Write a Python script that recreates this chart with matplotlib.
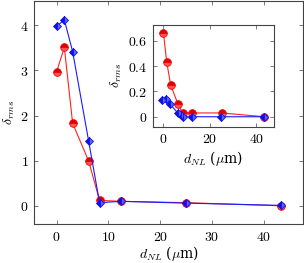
import matplotlib
matplotlib.use("Agg")
import matplotlib.pyplot as plt

plt.rcParams['mathtext.fontset'] = 'cm'
plt.rcParams['font.family'] = ['DejaVu Serif']

# main data
x_main = [0.0, 1.5, 3.1, 6.2, 8.3, 12.5, 25.0, 43.4]
red_main = [2.97, 3.51, 1.83, 0.99, 0.12, 0.10, 0.07, 0.0]
blue_main = [3.98, 4.12, 3.42, 1.43, 0.07, 0.10, 0.06, 0.01]

# inset data
x_in_red = [0.3, 1.7, 3.4, 6.5, 8.5, 12.6, 25.1, 43.4]
red_in = [0.66, 0.43, 0.25, 0.10, 0.03, 0.03, 0.03, 0.0]
x_in_blue = [-0.3, 1.4, 3.1, 6.4, 7.9, 8.5, 12.6, 25.0, 43.4]
blue_in = [0.13, 0.14, 0.10, 0.03, 0.015, 0.0, 0.0, 0.0, 0.0]

main_xticks = [0, 10, 20, 30, 40]
main_yticks = [0, 1, 2, 3, 4]
in_xticks = [0, 20, 40]
in_yticks = [0, 0.2, 0.4, 0.6]

fig = plt.figure(figsize=(3.04, 2.63), dpi=100)

red_kw = dict(color='#ff2020', lw=0.8, marker='o', ms=5.5, fillstyle='top',
              markerfacecolor='#dd0000', markerfacecoloralt='#ff5555',
              markeredgecolor='#ee0000', markeredgewidth=0.6)
blue_kw = dict(color='#1a1aff', lw=0.8, marker='D', ms=4.2, fillstyle='left',
               markerfacecolor='#1010dd', markerfacecoloralt='#5566ff',
               markeredgecolor='#1010ee', markeredgewidth=0.6)


def style(ax, fs):
    for s in ax.spines.values():
        s.set_color('#444444')
        s.set_linewidth(0.8)
    ax.tick_params(direction='in', top=True, right=True, length=3,
                   width=0.6, color='#666666', labelsize=fs, pad=4)


ax = fig.add_axes([0.112, 0.147, 0.885, 0.851])
ax.plot(x_main, red_main, **red_kw, zorder=3)
ax.plot(x_main, blue_main, **blue_kw, zorder=4)
ax.set_xlim(-4.35, 47.6)
ax.set_ylim(-0.41, 4.55)
ax.set_xticks(main_xticks)
ax.set_xticklabels([f'${v}$' for v in main_xticks])
ax.set_yticks(main_yticks)
ax.set_yticklabels([f'${v}$' for v in main_yticks])
style(ax, 10)
ax.set_xlabel(r'$d_{NL}$ ($\mu$m)', fontsize=10, labelpad=0)
ax.set_ylabel(r'$\delta_{rms}$', fontsize=10, labelpad=2)

axi = fig.add_axes([0.503, 0.519, 0.399, 0.386])
axi.plot(x_in_red, red_in, **red_kw, zorder=3)
axi.plot(x_in_blue, blue_in, **blue_kw, zorder=4)
axi.set_xlim(-4.2, 47.6)
axi.set_ylim(-0.077, 0.724)
axi.set_xticks(in_xticks)
axi.set_xticklabels([f'${v}$' for v in in_xticks])
axi.set_yticks(in_yticks)
axi.set_yticklabels(['$0$', '$0.2$', '$0.4$', '$0.6$'])
style(axi, 10)
axi.set_xlabel(r'$d_{NL}$ ($\mu$m)', fontsize=10, labelpad=2)
axi.set_ylabel(r'$\delta_{rms}$', fontsize=10, labelpad=3)

fig.savefig('out.png', dpi=100)
